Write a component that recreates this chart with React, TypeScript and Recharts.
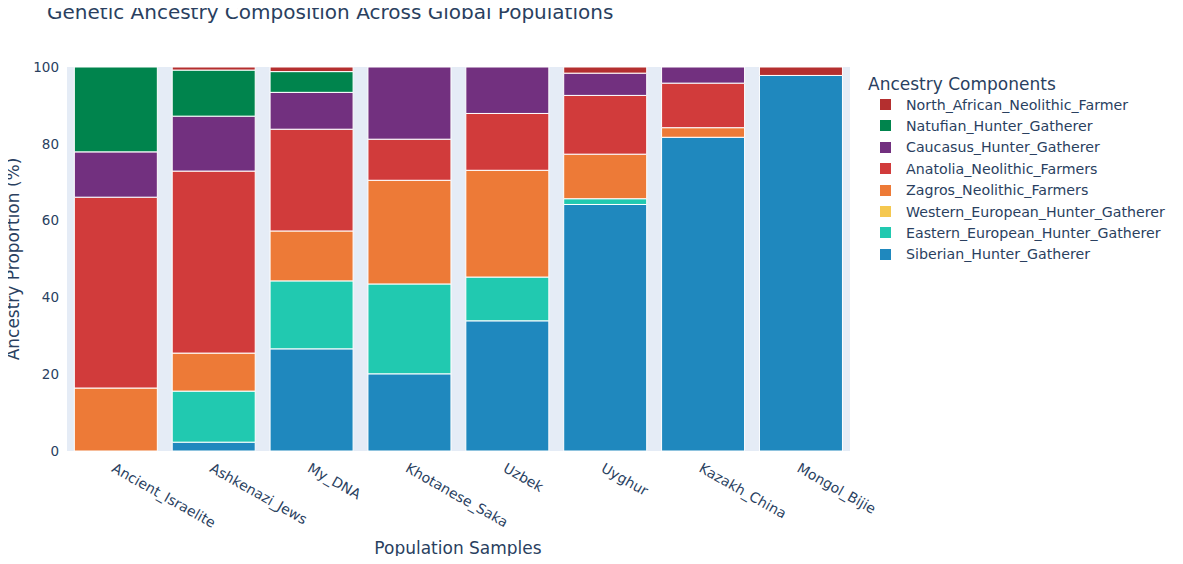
import React from 'react';
import { BarChart, Bar, XAxis, YAxis, CartesianGrid } from 'recharts';

const populations = [
  'Ancient_Israelite',
  'Ashkenazi_Jews',
  'My_DNA',
  'Khotanese_Saka',
  'Uzbek',
  'Uyghur',
  'Kazakh_China',
  'Mongol_Bijie',
];

// stacked bottom -> top
const siberian = [0, 2.3, 26.6, 20.1, 33.9, 64.2, 81.7, 97.8];
const easternEuropean = [0, 13.3, 17.7, 23.4, 11.4, 1.5, 0, 0];
const westernEuropean = [0, 0, 0, 0, 0, 0, 0, 0];
const zagros = [16.4, 9.9, 13.0, 27.0, 27.8, 11.6, 2.5, 0];
const anatolia = [49.7, 47.4, 26.5, 10.7, 14.8, 15.3, 11.6, 0];
const caucasus = [11.8, 14.3, 9.6, 18.8, 12.1, 5.8, 4.2, 0];
const natufian = [22.1, 12.0, 5.4, 0, 0, 0, 0, 0];
const northAfrican = [0, 0.8, 1.2, 0, 0, 1.6, 0, 2.2];

const seriesNames = [
  'Siberian_Hunter_Gatherer',
  'Eastern_European_Hunter_Gatherer',
  'Western_European_Hunter_Gatherer',
  'Zagros_Neolithic_Farmers',
  'Anatolia_Neolithic_Farmers',
  'Caucasus_Hunter_Gatherer',
  'Natufian_Hunter_Gatherer',
  'North_African_Neolithic_Farmer',
];
const seriesValues = [siberian, easternEuropean, westernEuropean, zagros, anatolia, caucasus, natufian, northAfrican];
const seriesColors = ['#1f88be', '#21c9b0', '#f5c850', '#ed7a37', '#d13b3b', '#72307f', '#00844d', '#b42f2f'];

const yTicks = [0, 20, 40, 60, 80, 100];

const data = populations.map((p, i) => {
  const row: any = { name: p };
  seriesNames.forEach((s, j) => {
    row[s] = seriesValues[j][i];
  });
  return row;
});

const FONT = 'Verdana, "DejaVu Sans", sans-serif';
const TEXT = '#2a3f5f';

const XTick = ({ x, y, payload }: any) => (
  <text
    x={0}
    y={0}
    transform={`translate(${x},${y + 3}) rotate(29.5)`}
    textAnchor="start"
    dominantBaseline="hanging"
    fill={TEXT}
    fontSize={14}
    fontFamily={FONT}
  >
    {payload.value}
  </text>
);

const App: React.FC = () => {
  return (
    <div style={{ position: 'relative', width: 1183, height: 564, margin: -8, background: '#fff', overflow: 'hidden', fontFamily: FONT }}>
      <div style={{ position: 'absolute', left: 47, top: 0, fontSize: 20, lineHeight: '24px', color: TEXT, whiteSpace: 'nowrap' }}>
        Genetic Ancestry Composition Across Global Populations
      </div>
      <div
        style={{
          position: 'absolute',
          left: 916,
          top: -30,
          width: 253,
          height: 33,
          borderRadius: 8,
          background: '#fff',
          boxShadow: '0 1px 3px rgba(0,0,0,0.45)',
        }}
      />
      <BarChart
        width={1183}
        height={564}
        data={data}
        margin={{ top: 67, right: 333, bottom: 0, left: 0 }}
        barCategoryGap="7.5%"
      >
        <rect x={67} y={67} width={783} height={384} fill="#e5ecf6" />
        <CartesianGrid stroke="#fff" strokeWidth={1} vertical={false} />
        <XAxis
          dataKey="name"
          tick={<XTick />}
          tickLine={false}
          axisLine={false}
          interval={0}
          height={113}
        />
        <YAxis
          domain={[0, 100]}
          ticks={yTicks}
          width={67}
          tickLine={false}
          axisLine={false}
          tick={{ fill: TEXT, fontSize: 13.5, fontFamily: FONT }}
          tickMargin={2}
        />
        {seriesNames.map((s, j) => (
          <Bar
            key={s}
            dataKey={s}
            stackId="a"
            fill={seriesColors[j]}
            stroke="#fff"
            strokeWidth={1}
            isAnimationActive={false}
          />
        ))}
      </BarChart>
      <div
        style={{
          position: 'absolute',
          left: 13,
          top: 259,
          transform: 'translate(-50%, -50%) rotate(-90deg)',
          whiteSpace: 'nowrap',
          fontSize: 17,
          color: TEXT,
        }}
      >
        Ancestry Proportion (%)
      </div>
      <div
        style={{
          position: 'absolute',
          left: 458,
          top: 548,
          transform: 'translate(-50%, -50%)',
          whiteSpace: 'nowrap',
          fontSize: 17,
          color: TEXT,
        }}
      >
        Population Samples
      </div>
      <div style={{ position: 'absolute', left: 868, top: 74, fontSize: 17, color: TEXT, whiteSpace: 'nowrap' }}>Ancestry Components</div>
      {[...seriesNames].reverse().map((s, k) => {
        const color = seriesColors[seriesNames.length - 1 - k];
        const cy = 104.5 + k * 21.4;
        return (
          <div key={s} style={{ position: 'absolute', left: 880, top: cy - 9, height: 18, display: 'flex', alignItems: 'center' }}>
            <div style={{ width: 11, height: 11, background: color }} />
            <div style={{ marginLeft: 15, fontSize: 14.2, color: TEXT, whiteSpace: 'nowrap' }}>{s}</div>
          </div>
        );
      })}
    </div>
  );
};

export default App;
